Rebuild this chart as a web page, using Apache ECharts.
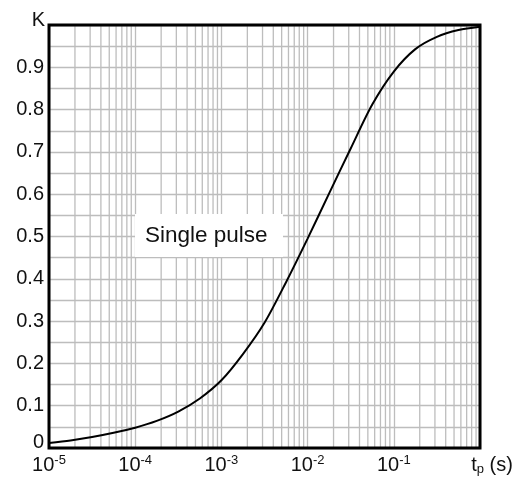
<!DOCTYPE html>
<html>
<head>
<meta charset="utf-8">
<script src="https://cdn.jsdelivr.net/npm/echarts@6/dist/echarts.min.js"></script>
<style>
  html, body { margin: 0; padding: 0; background: #fff; }
  #chart { width: 521px; height: 477px; }
</style>
</head>
<body>
<div id="chart"></div>
<script>
// Pulse duration t_p (s), sampled at quarter-decade steps, and the factor K of the single-pulse curve
const tpValues = [1e-5, 1.778e-5, 3.162e-5, 5.623e-5,
                  1e-4, 1.778e-4, 3.162e-4, 5.623e-4,
                  1e-3, 1.778e-3, 3.162e-3, 5.623e-3,
                  1e-2, 1.778e-2, 3.162e-2, 5.623e-2,
                  1e-1, 1.778e-1, 3.162e-1, 5.623e-1, 1];
const kValues = [0.012, 0.018, 0.026, 0.036,
                 0.048, 0.064, 0.086, 0.117,
                 0.160, 0.222, 0.296, 0.392,
                 0.495, 0.602, 0.708, 0.812,
                 0.890, 0.943, 0.972, 0.988, 0.996];

// Log grid: decades and the 2..9 subdivisions inside each one
const decadeStarts = [1e-5, 1e-4, 1e-3, 1e-2, 1e-1];
const subMultipliers = [2, 3, 4, 5, 6, 7, 8, 9];

// Axis texts
const yTickLabels = ['0', '0.1', '0.2', '0.3', '0.4', '0.5', '0.6', '0.7', '0.8', '0.9'];
const yAxisName = 'K';
const xAxisUnit = ['t', 'p', ' (s)'];
const noteText = 'Single pulse';

const FONT = '"Liberation Sans", Arial, Helvetica, sans-serif';
const GRID_GREY = '#bdbdbd';

const minorGridX = [];
decadeStarts.forEach(d => subMultipliers.forEach(m => minorGridX.push(d * m)));

const chart = echarts.init(document.getElementById('chart'), null, { renderer: 'canvas' });

chart.setOption({
  animation: false,
  backgroundColor: '#fff',
  textStyle: { fontFamily: FONT },
  grid: {
    left: 49, top: 25, right: 41, bottom: 29,
    show: true, z: 10,
    backgroundColor: 'transparent',
    borderColor: '#000', borderWidth: 3
  },
  xAxis: {
    type: 'log', logBase: 10, min: 1e-5, max: 1,
    axisLine: { show: false },
    axisTick: { show: false },
    splitLine: { show: true, lineStyle: { color: GRID_GREY, width: 1.3 } },
    axisLabel: {
      margin: 6,
      color: '#111',
      formatter: function (v) {
        const e = Math.round(Math.log10(v));
        if (e === 0) {
          return '{sp|}{b|' + xAxisUnit[0] + '}{sub|' + xAxisUnit[1] + '}{b|' + xAxisUnit[2] + '}';
        }
        return '{b|10}{sup|' + e + '}';
      },
      rich: {
        b: { fontSize: 20, fontFamily: FONT, color: '#111', lineHeight: 22 },
        sup: { fontSize: 13, fontFamily: FONT, color: '#111', verticalAlign: 'top', lineHeight: 13 },
        sub: { fontSize: 13, fontFamily: FONT, color: '#111', verticalAlign: 'bottom', lineHeight: 13 },
        sp: { width: 24 }
      }
    }
  },
  yAxis: {
    type: 'value', min: 0, max: 1, interval: 0.05,
    name: yAxisName,
    nameLocation: 'end',
    nameGap: -5,
    nameTextStyle: { fontSize: 20, color: '#111', fontFamily: FONT, align: 'right', padding: [0, 4, 0, 0] },
    axisLine: { show: false },
    axisTick: { show: false },
    splitLine: { show: true, lineStyle: { color: GRID_GREY, width: 1.3 } },
    axisLabel: {
      margin: 5,
      fontSize: 20,
      color: '#111',
      formatter: function (v) {
        const hundredths = Math.round(v * 100);
        if (hundredths % 10 !== 0 || hundredths >= 100) return '';
        const label = yTickLabels[hundredths / 10];
        return hundredths === 0 ? '{z|' + label + '}' : label;
      },
      rich: {
        z: { fontSize: 20, fontFamily: FONT, color: '#111', padding: [0, 0, 12, 0] }
      }
    }
  },
  series: [
    {
      // vertical grid lines at 2..9 within each decade
      type: 'custom',
      silent: true,
      z: 1,
      data: minorGridX,
      renderItem: function (params, api) {
        const x = api.value(0);
        const p0 = api.coord([x, 0]);
        const p1 = api.coord([x, 1]);
        return {
          type: 'line',
          shape: { x1: p0[0], y1: p0[1], x2: p1[0], y2: p1[1] },
          style: { stroke: GRID_GREY, lineWidth: 1.3 }
        };
      },
      encode: { x: 0 }
    },
    {
      type: 'line',
      data: tpValues.map((t, i) => [t, kValues[i]]),
      showSymbol: false,
      smooth: 0.3,
      lineStyle: { color: '#000', width: 2 },
      z: 5
    }
  ],
  graphic: [
    {
      type: 'rect',
      left: 135, top: 214,
      shape: { width: 148, height: 43 },
      style: { fill: '#fff' },
      z: 20
    },
    {
      type: 'text',
      left: 145, top: 224,
      style: { text: noteText, font: '22.5px ' + FONT, fill: '#111' },
      z: 21
    }
  ]
});
</script>
</body>
</html>
